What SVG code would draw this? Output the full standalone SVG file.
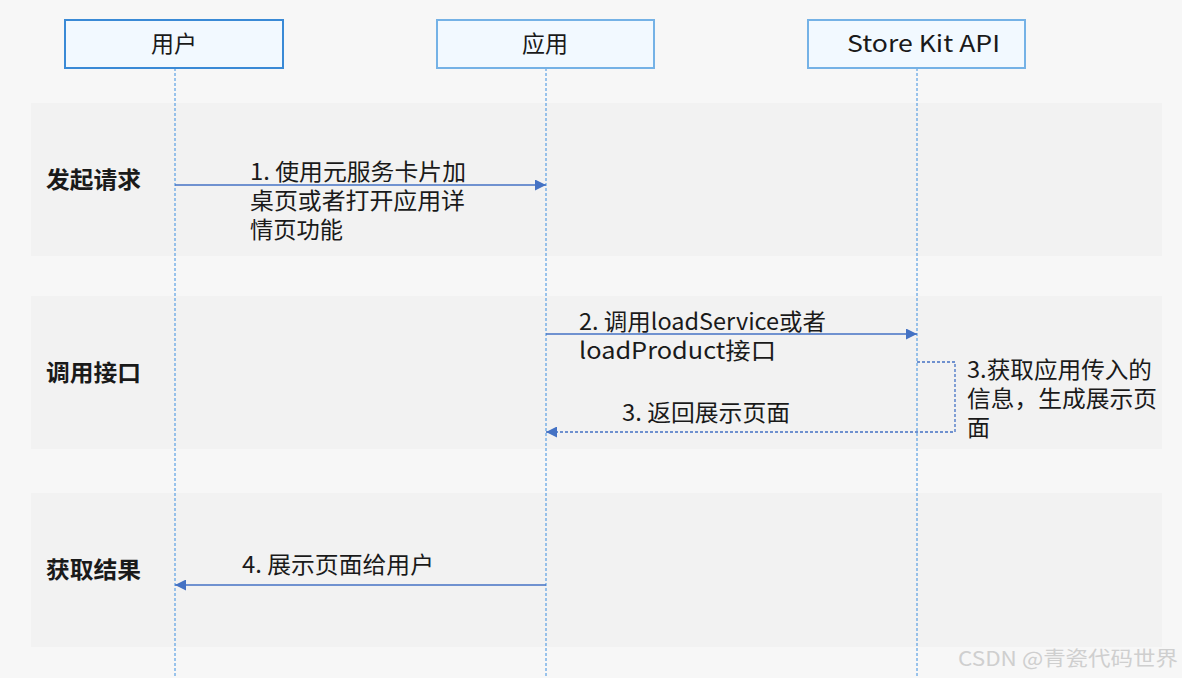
<svg xmlns="http://www.w3.org/2000/svg" width="1182" height="678" viewBox="0 0 1182 678">
<defs>
<style>
.t{font-family:"Noto Sans CJK SC","Noto Sans",sans-serif;font-size:23px;fill:#1a1a1a}
.b{font-family:"Noto Sans CJK SC","Noto Sans",sans-serif;font-size:23px;font-weight:bold;fill:#1a1a1a}
.box{fill:#f2f9ff;stroke:#75b2e6;stroke-width:2}
.life{stroke:#3d8fe0;stroke-width:1;stroke-dasharray:3 2;fill:none}
.msg{stroke:#4472c4;stroke-width:1.3;fill:none}
.ret{stroke:#4472c4;stroke-width:1.3;fill:none;stroke-dasharray:3 2}
.band{fill:#f2f2f2}
</style>
<marker id="ah" viewBox="0 0 10 10" refX="10" refY="5" markerWidth="11" markerHeight="11" markerUnits="userSpaceOnUse" orient="auto">
<path d="M0,0 L10,5 L0,10 z" fill="#4472c4"/>
</marker>
</defs>
<rect width="1182" height="678" fill="#f7f7f7"/>
<g id="bands">
<rect class="band" x="31" y="103" width="1131" height="153"/>
<rect class="band" x="31" y="296" width="1131" height="153"/>
<rect class="band" x="31" y="493" width="1131" height="154"/>
<text class="b" x="46" y="188" textLength="95" lengthAdjust="spacingAndGlyphs">发起请求</text>
<text class="b" x="46" y="381" textLength="95" lengthAdjust="spacingAndGlyphs">调用接口</text>
<text class="b" x="46" y="578" textLength="95" lengthAdjust="spacingAndGlyphs">获取结果</text>
</g>
<g id="lifelines">
<line class="life" x1="175" y1="68" x2="175" y2="678"/>
<line class="life" x1="546" y1="68" x2="546" y2="678"/>
<line class="life" x1="917" y1="68" x2="917" y2="678"/>
</g>
<g id="node-user">
<rect class="box" x="65" y="20" width="218" height="48" style="stroke:#3a8ad6"/>
<text class="t" x="151" y="52" textLength="46" lengthAdjust="spacingAndGlyphs">用户</text>
</g>
<g id="node-app">
<rect class="box" x="437" y="20" width="217" height="48"/>
<text class="t" x="522" y="52" textLength="46" lengthAdjust="spacingAndGlyphs">应用</text>
</g>
<g id="node-storekit">
<rect class="box" x="808" y="20" width="217" height="48"/>
<text class="t" x="847" y="52" textLength="153" lengthAdjust="spacingAndGlyphs">Store Kit API</text>
</g>
<g id="connectors">
<line class="msg" x1="175" y1="185" x2="546" y2="185" marker-end="url(#ah)"/>
<line class="msg" x1="546" y1="334" x2="917" y2="334" marker-end="url(#ah)"/>
<polyline class="ret" points="917,362 955,362 955,432 546,432" marker-end="url(#ah)"/>
<line class="msg" x1="546" y1="585" x2="175" y2="585" marker-end="url(#ah)"/>
</g>
<g id="labels">
<text class="t" x="250" y="180" textLength="216" lengthAdjust="spacingAndGlyphs">1. 使用元服务卡片加</text>
<text class="t" x="250" y="209" textLength="215" lengthAdjust="spacingAndGlyphs">桌页或者打开应用详</text>
<text class="t" x="250" y="238" textLength="93" lengthAdjust="spacingAndGlyphs">情页功能</text>
<text class="t" x="579" y="330" textLength="247" lengthAdjust="spacingAndGlyphs">2. 调用loadService或者</text>
<text class="t" x="579" y="359" textLength="197" lengthAdjust="spacingAndGlyphs">loadProduct接口</text>
<text class="t" x="622" y="421" textLength="168" lengthAdjust="spacingAndGlyphs">3. 返回展示页面</text>
<text class="t" x="967" y="378" textLength="185" lengthAdjust="spacingAndGlyphs">3.获取应用传入的</text>
<text class="t" x="967" y="407" textLength="190" lengthAdjust="spacingAndGlyphs">信息，生成展示页</text>
<text class="t" x="967" y="436" textLength="23" lengthAdjust="spacingAndGlyphs">面</text>
<text class="t" x="242" y="573" textLength="192" lengthAdjust="spacingAndGlyphs">4. 展示页面给用户</text>
</g>
<text x="958" y="666" textLength="220" lengthAdjust="spacingAndGlyphs" style="font-family:'Noto Sans CJK SC','Noto Sans',sans-serif;font-size:20px;fill:#cfcfcf">CSDN @青瓷代码世界</text>
</svg>
